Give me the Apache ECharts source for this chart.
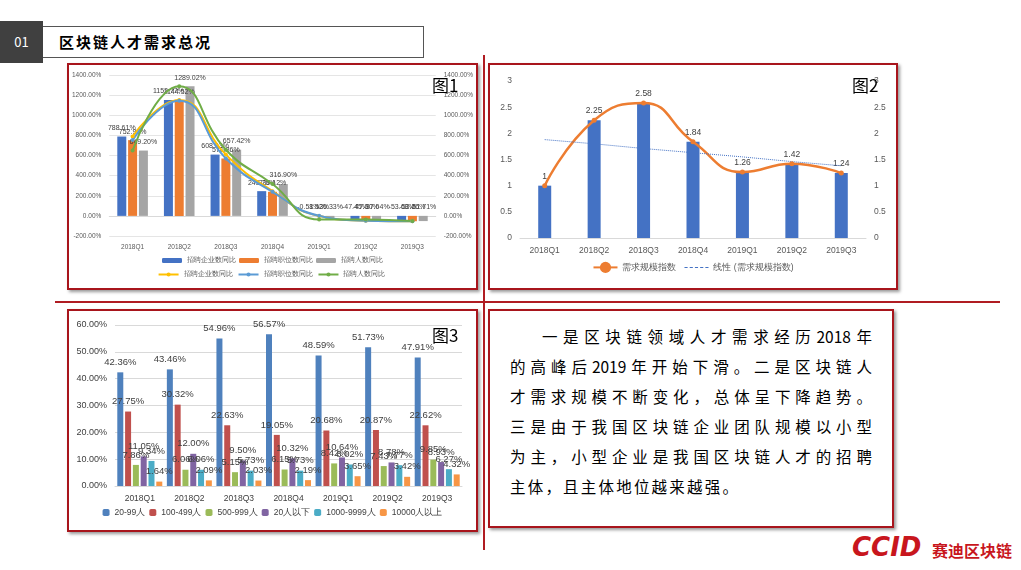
<!DOCTYPE html>
<html><head><meta charset="utf-8">
<script src="https://cdn.jsdelivr.net/npm/echarts@6/dist/echarts.min.js"></script>
<style>
body{margin:0;width:1021px;height:570px;background:#fff;position:relative;font-family:"Noto Sans CJK SC",sans-serif;overflow:hidden}
.box{position:absolute;border:2px solid #a8151c;box-shadow:2px 2px 3px #999;background:#fff}
.abs{position:absolute}
.txt div{text-align:justify;text-align-last:justify;white-space:nowrap}
.txt div.last{text-align-last:left}
</style></head><body>
<div class="abs" style="left:0;top:21px;width:43px;height:42px;background:#404040;color:#fff;font-size:13px;line-height:42px;text-align:center">01</div>
<div class="abs" style="left:43px;top:26px;width:364px;height:30px;border:1px solid #555;border-left:none;font-size:15px;font-weight:bold;line-height:30px;padding-left:16px;letter-spacing:2px">区块链人才需求总况</div>
<div class="abs" style="left:483px;top:55px;width:2px;height:495px;background:#b01c22"></div>
<div class="abs" style="left:55px;top:301px;width:945px;height:2px;background:#b01c22"></div>
<div class="box" id="c1" style="left:67px;top:63px;width:407px;height:223px"></div>
<div class="box" id="c2" style="left:488px;top:63px;width:406px;height:223px"></div>
<div class="box" id="c3" style="left:67px;top:309px;width:407px;height:219px"></div>
<div class="box txt" style="left:488px;top:309px;width:406px;height:219px;box-sizing:border-box;padding:10px 20px 10px 20px;font-size:15.5px;line-height:30px">
<div style="padding-left:32px">一是区块链领域人才需求经历2018年</div>
<div>的高峰后2019年开始下滑。二是区块链人</div>
<div>才需求规模不断变化，总体呈下降趋势。</div>
<div>三是由于我国区块链企业团队规模以小型</div>
<div>为主，小型企业是我国区块链人才的招聘</div>
<div class="last" style="letter-spacing:2.2px">主体，且主体地位越来越强。</div>
</div>
<div class="abs" style="left:852px;top:532px;font-size:26px;font-weight:900;color:#c8161d;font-style:italic;font-family:'DejaVu Sans'">CCID</div>
<div class="abs" style="left:932px;top:538px;font-size:16px;font-weight:bold;color:#c8161d">赛迪区块链</div>
<div class="abs" style="left:432px;top:72px;font-size:17px">图1</div>
<div class="abs" style="left:852px;top:72px;font-size:17px">图2</div>
<div class="abs" style="left:432px;top:322px;font-size:17px">图3</div>
<script>
const quarters = ['2018Q1','2018Q2','2018Q3','2018Q4','2019Q1','2019Q2','2019Q3'];
const qiye = [788.61, 1152.77, 608.93, 245.76, -0.58, -47.45, -53.68];
const zhiwei = [752.93, 1144.52, 570.36, 239.12, 1.52, -47.30, -53.26];
const renshu = [649.20, 1289.02, 657.42, 316.90, -36.33, -37.04, -51.71];
const demand = [1, 2.25, 2.58, 1.84, 1.26, 1.42, 1.24];
const demandTrend = [1.88, 1.80, 1.71, 1.63, 1.55, 1.46, 1.38];
const sizeNames = ['20-99人','100-499人','500-999人','20人以下','1000-9999人','10000人以上'];
const sizeColors = ['#4f81bd','#c0504d','#9bbb59','#8064a2','#4bacc6','#f79646'];
const sizeData = [
  [42.36, 43.46, 54.96, 56.57, 48.59, 51.73, 47.91],
  [27.75, 30.32, 22.63, 19.05, 20.68, 20.87, 22.62],
  [7.86, 6.06, 5.15, 6.15, 8.42, 7.43, 9.85],
  [11.05, 12.00, 9.50, 10.32, 10.64, 8.78, 8.93],
  [9.34, 6.06, 5.73, 5.73, 8.02, 7.77, 6.27],
  [1.64, 2.09, 2.03, 2.19, 3.65, 3.42, 4.32]
];
const pct = v => v.toFixed(2) + '%';
const small = {fontSize: 6.5, color: '#595959'};

const c1 = echarts.init(document.getElementById('c1'));
const barNames = ['招聘企业数同比','招聘职位数同比','招聘人数同比'];
const barCol = ['#4472c4','#ed7d31','#a5a5a5'];
const lineCol = ['#ffc000','#5b9bd5','#70ad47'];
const d1 = [qiye, zhiwei, renshu];
c1.setOption({
  animation: false,
  grid: {left: 40, right: 40, top: 10, bottom: 52},
  legend: [
    {data: barNames, bottom: 19, itemWidth: 20, itemHeight: 5, itemGap: 3, textStyle: {fontSize: 7, color: '#595959'}},
    {data: barNames.map(n => ({name: n + ' '})), bottom: 5, itemWidth: 20, itemHeight: 5, itemGap: 3, textStyle: {fontSize: 7, color: '#595959'}}
  ],
  xAxis: {type: 'category', data: quarters, axisLine: {lineStyle: {color: '#d9d9d9'}}, axisTick: {show: false}, axisLabel: small},
  yAxis: [
    {min: -200, max: 1400, interval: 200, axisLabel: {...small, formatter: v => v.toFixed(2) + '%'}, splitLine: {lineStyle: {color: '#e5e5e5'}}},
    {min: -200, max: 1400, interval: 200, axisLabel: {...small, formatter: v => v.toFixed(2) + '%'}, splitLine: {show: false}}
  ],
  series: [
    ...d1.map((d, i) => ({name: barNames[i], type: 'bar', data: d, barWidth: 9, barGap: '20%', itemStyle: {color: barCol[i]},
      label: {show: true, position: 'top', fontSize: 7, color: '#404040', formatter: p => pct(p.value)}})),
    ...d1.map((d, i) => ({name: barNames[i] + ' ', type: 'line', yAxisIndex: 1, smooth: true, data: d, symbol: 'circle', symbolSize: 4,
      itemStyle: {color: lineCol[i]}, lineStyle: {width: 2, color: lineCol[i]}}))
  ]
});

const c2 = echarts.init(document.getElementById('c2'));
c2.setOption({
  animation: false,
  grid: {left: 30, right: 30, top: 16, bottom: 50},
  legend: {data: [{name: '需求规模指数'}, {name: '线性 (需求规模指数)', icon: 'path://M0,0h3v1h-3zM5,0h3v1h-3zM10,0h3v1h-3zM15,0h3v1h-3zM20,0h3v1h-3z'}], bottom: 10, itemWidth: 24, textStyle: {fontSize: 8.5, color: '#595959'}},
  xAxis: {type: 'category', data: quarters, axisLine: {lineStyle: {color: '#d9d9d9'}}, axisTick: {show: false}, axisLabel: {fontSize: 8.5, color: '#595959'}},
  yAxis: [
    {min: 0, max: 3, interval: 0.5, axisLabel: {fontSize: 8.5, color: '#595959'}, splitLine: {show: false}},
    {min: 0, max: 3, interval: 0.5, axisLabel: {fontSize: 8.5, color: '#595959'}, splitLine: {show: false}}
  ],
  series: [
    {type: 'bar', data: demand, barWidth: 13, itemStyle: {color: '#4472c4'}, label: {show: true, position: 'top', fontSize: 8.5, color: '#404040'}},
    {name: '需求规模指数', type: 'line', smooth: true, data: demand, symbol: 'circle', symbolSize: 5, itemStyle: {color: '#ed7d31'}, lineStyle: {width: 2.5, color: '#ed7d31'}},
    {name: '线性 (需求规模指数)', type: 'line', data: demandTrend, symbol: 'none', itemStyle: {color: '#4472c4'}, lineStyle: {width: 1, type: 'dotted', color: '#4472c4'}}
  ]
});

const c3 = echarts.init(document.getElementById('c3'));
c3.setOption({
  animation: false,
  grid: {left: 46, right: 14, top: 14, bottom: 44},
  legend: {data: sizeNames, bottom: 8, itemWidth: 7, itemHeight: 7, itemGap: 4, textStyle: {fontSize: 8.5, color: '#404040'}},
  xAxis: {type: 'category', data: quarters, axisLine: {lineStyle: {color: '#d9d9d9'}}, axisTick: {show: false}, axisLabel: {fontSize: 8.5, color: '#404040'}},
  yAxis: {min: 0, max: 60, interval: 10, axisLabel: {fontSize: 9, color: '#404040', formatter: v => v.toFixed(2) + '%'}, splitLine: {lineStyle: {color: '#d9d9d9'}}},
  series: sizeData.map((d, i) => ({name: sizeNames[i], type: 'bar', data: d, barWidth: 6, barGap: '30%', itemStyle: {color: sizeColors[i]},
    label: {show: true, position: 'top', fontSize: 9.5, color: '#404040', formatter: p => pct(p.value)}}))
});
</script>
</body></html>
